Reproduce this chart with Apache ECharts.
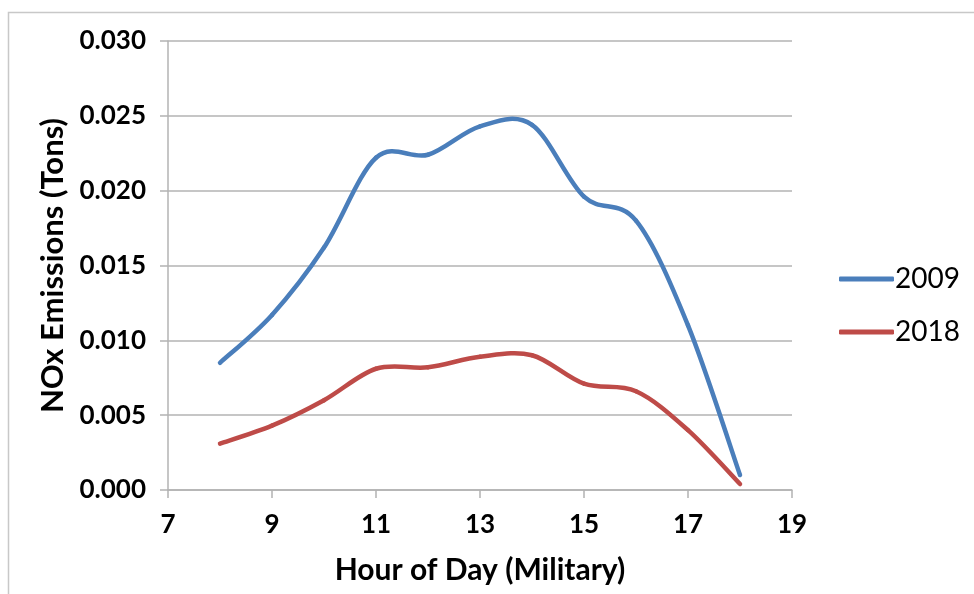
<!DOCTYPE html>
<html lang="en">
<head>
    <meta charset="UTF-8">
    <title>NOx Emissions by Hour</title>
    <script src="https://cdn.jsdelivr.net/npm/echarts@6/dist/echarts.min.js"></script>
    <style>
        body {
            margin: 0;
            background: #fff;
        }

        #chart {
            width: 974px;
            height: 594px;
        }
    </style>
</head>
<body>
    <div id="chart"></div>

    <script>
        // hour of day (military)
        const hours = [8, 9, 10, 11, 12, 13, 14, 15, 16, 17, 18]
        const nox2009 = [0.0085, 0.0117, 0.0162, 0.0222, 0.0224, 0.0243, 0.0244, 0.0196, 0.0180, 0.0110, 0.0010]
        const nox2018 = [0.0031, 0.0043, 0.0060, 0.0081, 0.0082, 0.0089, 0.0090, 0.0071, 0.0066, 0.0040, 0.0004]
        const seriesNames = ['2009', '2018']
        const colors = ['#4a7ebb', '#be4b48']

        const font = 'Lato, "Open Sans", sans-serif'
        const gray = '#b3b3b3'

        function pairs(vals) {
            return hours.map((h, i) => [h, vals[i]])
        }

        // excel-style smoothing: catmull-rom segments between neighbouring points
        function smoothLine(vals, color) {
            const n = hours.length
            return function (params, api) {
                const i = params.dataIndex
                if (i >= n - 1) return
                const p = k => {
                    k = Math.max(0, Math.min(n - 1, k))
                    return api.coord([hours[k], vals[k]])
                }
                const p0 = p(i - 1), p1 = p(i), p2 = p(i + 1), p3 = p(i + 2)
                return {
                    type: 'bezierCurve',
                    shape: {
                        x1: p1[0], y1: p1[1],
                        x2: p2[0], y2: p2[1],
                        cpx1: p1[0] + (p2[0] - p0[0]) / 6,
                        cpy1: p1[1] + (p2[1] - p0[1]) / 6,
                        cpx2: p2[0] - (p3[0] - p1[0]) / 6,
                        cpy2: p2[1] - (p3[1] - p1[1]) / 6
                    },
                    style: { stroke: color, lineWidth: 4.5, fill: null, lineCap: 'round' }
                }
            }
        }

        var myChart = echarts.init(document.getElementById('chart'))

        var option = {
            animation: false,
            textStyle: { fontFamily: font },
            graphic: [
                {
                    type: 'rect',
                    shape: { x: 8.5, y: 12.5, width: 1000, height: 1000 },
                    style: { fill: 'none', stroke: '#c8c8c8', lineWidth: 1.5 }
                }
            ],
            grid: {
                left: 168,
                top: 41,
                right: 182,
                bottom: 104
            },
            legend: {
                orient: 'vertical',
                left: 834,
                top: 260,
                itemWidth: 55,
                itemHeight: 5,
                itemGap: 25,
                icon: 'roundRect',
                textStyle: {
                    fontFamily: font,
                    fontSize: 28,
                    color: '#000',
                    padding: [0, 0, 0, -4]
                },
                data: seriesNames
            },
            xAxis: {
                type: 'value',
                min: 7,
                max: 19,
                interval: 2,
                name: 'Hour of Day (Military)',
                nameLocation: 'middle',
                nameGap: 65,
                nameTextStyle: {
                    fontFamily: font,
                    fontSize: 30,
                    fontWeight: 'bold',
                    color: '#000'
                },
                axisLine: { lineStyle: { color: gray, width: 1.5 } },
                axisTick: { show: true, length: 8, lineStyle: { color: gray, width: 1.5 } },
                axisLabel: {
                    margin: 22,
                    fontSize: 26,
                    fontWeight: 'bold',
                    color: '#000'
                },
                splitLine: { show: false }
            },
            yAxis: {
                type: 'value',
                min: 0,
                max: 0.03,
                interval: 0.005,
                name: 'NOx Emissions (Tons)',
                nameLocation: 'middle',
                nameGap: 99,
                nameRotate: 90,
                nameTextStyle: {
                    fontFamily: font,
                    fontSize: 31,
                    fontWeight: 'bold',
                    color: '#000'
                },
                axisLine: { show: true, lineStyle: { color: gray, width: 1.5 } },
                axisTick: { show: true, length: 8, lineStyle: { color: gray, width: 1.5 } },
                axisLabel: {
                    margin: 22,
                    fontSize: 26,
                    fontWeight: 'bold',
                    color: '#000',
                    formatter: v => v.toFixed(3)
                },
                splitLine: { lineStyle: { color: gray, width: 1.5 } }
            },
            series: [
                {
                    name: seriesNames[0],
                    type: 'custom',
                    data: pairs(nox2009),
                    encode: { x: 0, y: 1 },
                    itemStyle: { color: colors[0] },
                    renderItem: smoothLine(nox2009, colors[0])
                },
                {
                    name: seriesNames[1],
                    type: 'custom',
                    data: pairs(nox2018),
                    encode: { x: 0, y: 1 },
                    itemStyle: { color: colors[1] },
                    renderItem: smoothLine(nox2018, colors[1])
                }
            ]
        }

        option && myChart.setOption(option)
    </script>
</body>
</html>
